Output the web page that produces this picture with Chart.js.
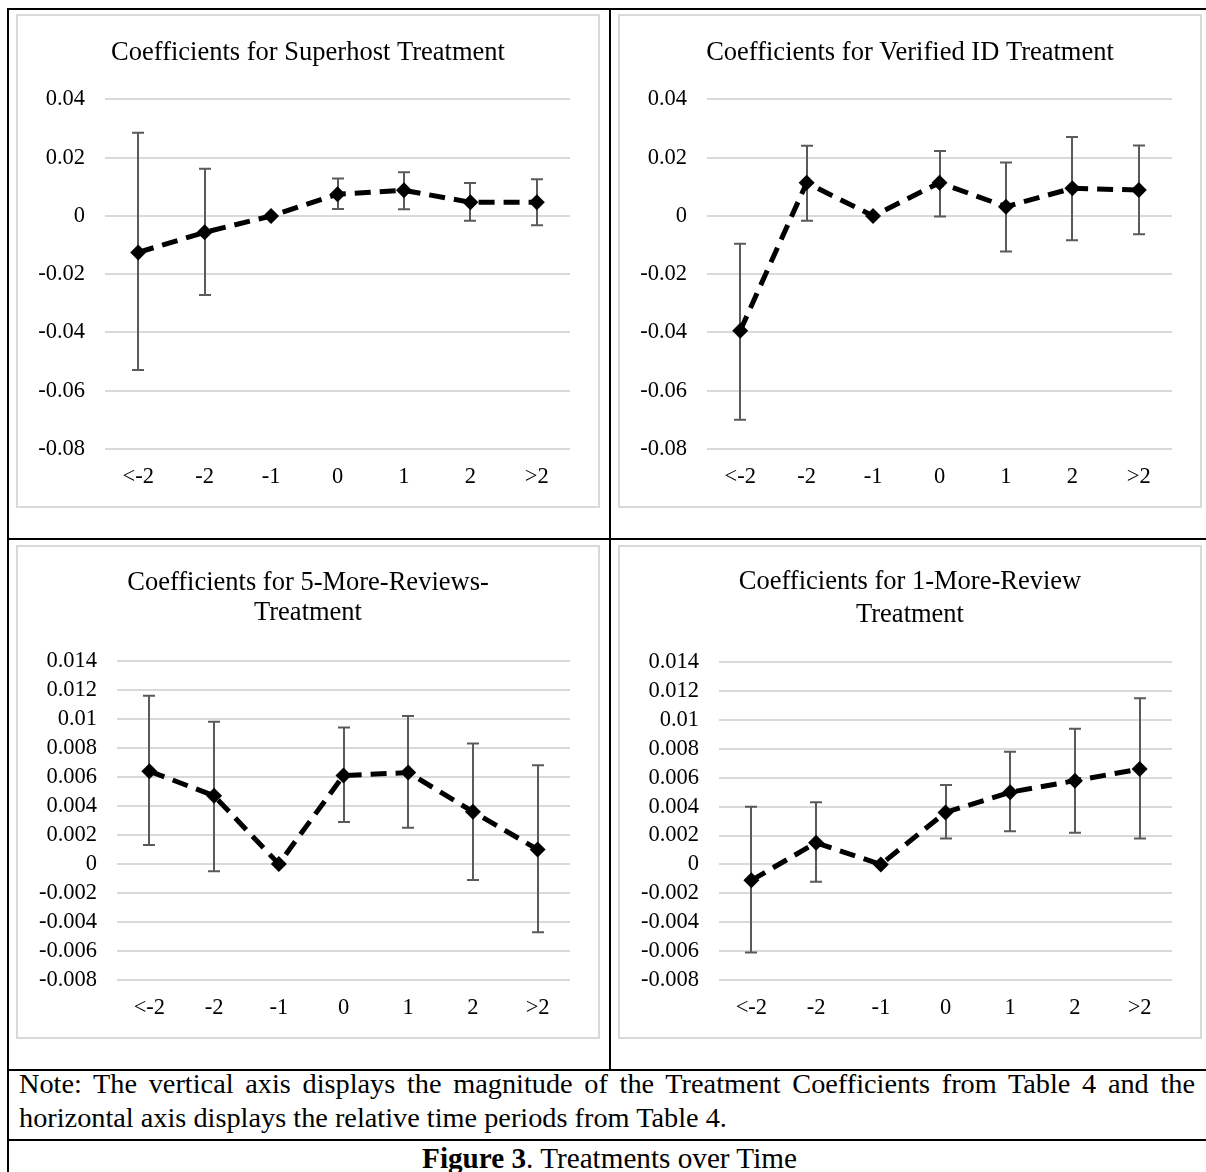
<!DOCTYPE html>
<html>
<head>
<meta charset="utf-8">
<script src="https://cdn.jsdelivr.net/npm/chart.js@4.4.0/dist/chart.umd.min.js"></script>
<style>
  html, body { margin: 0; padding: 0; background: #fff; }
  body { width: 1206px; height: 1172px; position: relative; overflow: hidden; font-family: 'Liberation Serif', 'Times New Roman', serif; color: #000; }
  .rule { position: absolute; background: #000; }
  .box { position: absolute; width: 584px; height: 494px; border: 2px solid #d9d9d9; box-sizing: border-box; }
  .box canvas { display: block; }
  .txt { position: absolute; font-size: 28.3px; line-height: 34px; white-space: nowrap; }
</style>
</head>
<body>

<!-- table rules -->
<div class="rule" style="left:7px; top:8px; width:1210px; height:2px;"></div>
<div class="rule" style="left:7px; top:8px; width:2px; height:1180px;"></div>
<div class="rule" style="left:609px; top:8px; width:2px; height:1063px;"></div>
<div class="rule" style="left:7px; top:538px; width:1210px; height:2px;"></div>
<div class="rule" style="left:7px; top:1069px; width:1210px; height:2px;"></div>
<div class="rule" style="left:7px; top:1139px; width:1210px; height:2px;"></div>

<div class="box" style="left:16px; top:14px;"><canvas id="c1" width="580" height="490"></canvas></div>
<div class="box" style="left:618px; top:14px;"><canvas id="c2" width="580" height="490"></canvas></div>
<div class="box" style="left:16px; top:545px;"><canvas id="c3" width="580" height="490"></canvas></div>
<div class="box" style="left:618px; top:545px;"><canvas id="c4" width="580" height="490"></canvas></div>

<div class="txt" style="left:19px; top:1067px; width:1176px; text-align:justify; text-align-last:justify;">Note: The vertical axis displays the magnitude of the Treatment Coefficients from Table 4 and the</div>
<div class="txt" style="left:19px; top:1101px;">horizontal axis displays the relative time periods from Table 4.</div>
<div class="txt" style="left:7px; top:1141px; width:1205px; text-align:center; font-size:29.2px;"><b>Figure 3</b>. Treatments over Time</div>

<script>
const periods = ['<-2', '-2', '-1', '0', '1', '2', '>2'];

const superhostCoef = [-0.0125, -0.0056, 0, 0.0075, 0.0088, 0.0047, 0.0047];
const superhostLow  = [-0.0529, -0.0271, null, 0.0024, 0.0023, -0.0016, -0.0032];
const superhostHigh = [0.0286, 0.0162, null, 0.0129, 0.0150, 0.0113, 0.0126];

const verifiedCoef = [-0.0394, 0.0114, 0, 0.0114, 0.0032, 0.0095, 0.0089];
const verifiedLow  = [-0.0700, -0.0016, null, -0.0002, -0.0122, -0.0083, -0.0063];
const verifiedHigh = [-0.0095, 0.0241, null, 0.0223, 0.0184, 0.0271, 0.0242];

const fiveCoef = [0.0064, 0.0047, 0, 0.0061, 0.0063, 0.0036, 0.0010];
const fiveLow  = [0.0013, -0.0005, null, 0.0029, 0.0025, -0.0011, -0.0047];
const fiveHigh = [0.0116, 0.0098, null, 0.0094, 0.0102, 0.0083, 0.0068];

const oneCoef = [-0.0011, 0.0015, 0, 0.0036, 0.0050, 0.0058, 0.0066];
const oneLow  = [-0.0061, -0.0012, null, 0.0018, 0.0023, 0.0022, 0.0018];
const oneHigh = [0.0040, 0.0043, null, 0.0055, 0.0078, 0.0094, 0.0115];

const ticksWide = [-0.08, -0.06, -0.04, -0.02, 0, 0.02, 0.04];
const ticksNarrow = [-0.008, -0.006, -0.004, -0.002, 0, 0.002, 0.004, 0.006, 0.008, 0.01, 0.012, 0.014];

const serif = "'Liberation Serif', 'Times New Roman', serif";

// error bars drawn under the line, from the y scale
const errorBars = {
  id: 'errorBars',
  beforeDatasetsDraw(chart, args, opts) {
    const ctx = chart.ctx;
    const xs = chart.scales.x, ys = chart.scales.y;
    ctx.save();
    ctx.strokeStyle = '#5a5a5a';
    ctx.lineWidth = 2;
    opts.low.forEach((lo, i) => {
      const hi = opts.high[i];
      if (lo === null || hi === null) return;
      const px = Math.round(xs.getPixelForValue(i));
      const yl = ys.getPixelForValue(lo);
      const yh = ys.getPixelForValue(hi);
      ctx.beginPath();
      ctx.moveTo(px, yl); ctx.lineTo(px, yh);
      ctx.moveTo(px - 6, yl); ctx.lineTo(px + 6, yl);
      ctx.moveTo(px - 6, yh); ctx.lineTo(px + 6, yh);
      ctx.stroke();
    });
    ctx.restore();
  }
};

function makeChart(id, c) {
  new Chart(document.getElementById(id), {
    type: 'line',
    data: {
      labels: periods,
      datasets: [{
        data: c.coef,
        borderColor: '#000',
        borderWidth: 5,
        borderDash: [16, 9],
        tension: 0,
        fill: false,
        pointStyle: 'rectRot',
        pointRadius: 8,
        pointHoverRadius: 8,
        pointBackgroundColor: '#000',
        pointBorderColor: '#000',
        pointBorderWidth: 0
      }]
    },
    options: {
      responsive: false,
      animation: false,
      devicePixelRatio: 1,
      layout: { padding: 0 },
      plugins: {
        legend: { display: false },
        tooltip: { enabled: false },
        title: {
          display: true,
          text: c.title,
          color: '#000',
          font: { family: serif, size: 26.5, weight: 'normal', lineHeight: c.titleLH },
          padding: { top: c.padTop, bottom: c.padBottom }
        },
        errorBars: { low: c.low, high: c.high }
      },
      scales: {
        x: {
          offset: true,
          grid: { display: false, drawTicks: false },
          border: { display: false },
          ticks: { color: '#000', font: { family: serif, size: 22.5 }, padding: 15, maxRotation: 0, autoSkip: false },
          afterFit: (s) => { s.height = c.xHeight; }
        },
        y: {
          min: c.ticks[0],
          max: c.ticks[c.ticks.length - 1],
          afterBuildTicks: (s) => { s.ticks = c.ticks.map(v => ({ value: v })); },
          grid: { color: '#d9d9d9', lineWidth: 2, drawTicks: false },
          border: { display: false },
          ticks: { color: '#000', font: { family: serif, size: 22.5 }, padding: 20, autoSkip: false, callback: (v) => String(v) },
          afterFit: (s) => { s.width = c.yWidth; }
        },
        // empty right-hand margin so the title stays centred on the box
        pad: {
          position: 'right',
          grid: { display: false, drawTicks: false },
          border: { display: false },
          ticks: { display: false },
          afterFit: (s) => { s.width = 28; }
        }
      }
    },
    plugins: [errorBars]
  });
}

makeChart('c1', { title: 'Coefficients for Superhost Treatment', coef: superhostCoef, low: superhostLow, high: superhostHigh,
  ticks: ticksWide, titleLH: 1.15, padTop: 22, padBottom: 31, xHeight: 57, yWidth: 87 });
makeChart('c2', { title: 'Coefficients for Verified ID Treatment', coef: verifiedCoef, low: verifiedLow, high: verifiedHigh,
  ticks: ticksWide, titleLH: 1.15, padTop: 22, padBottom: 31, xHeight: 57, yWidth: 87 });
makeChart('c3', { title: ['Coefficients for 5-More-Reviews-', 'Treatment'], coef: fiveCoef, low: fiveLow, high: fiveHigh,
  ticks: ticksNarrow, titleLH: 1.13, padTop: 21, padBottom: 33, xHeight: 57, yWidth: 99 });
makeChart('c4', { title: ['Coefficients for 1-More-Review', 'Treatment'], coef: oneCoef, low: oneLow, high: oneHigh,
  ticks: ticksNarrow, titleLH: 1.23, padTop: 19, padBottom: 31, xHeight: 57, yWidth: 99 });
</script>
</body>
</html>
